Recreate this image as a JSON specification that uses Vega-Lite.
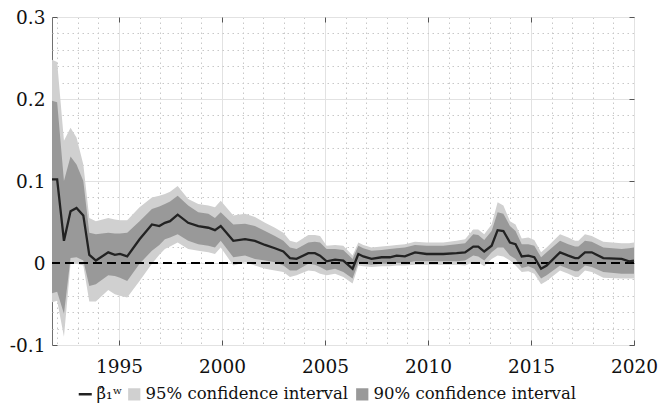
{
  "$schema": "https://vega.github.io/schema/vega-lite/v6.json",
  "width": 582,
  "height": 328,
  "autosize": {"type": "none"},
  "padding": {"left": 52, "top": 17, "right": 26, "bottom": 65},
  "background": "white",
  "config": {
    "font": "DejaVu Serif",
    "view": {"stroke": "#707070", "strokeWidth": 1},
    "axis": {"domain": false, "labelFont": "DejaVu Serif", "labelFontSize": 18.5, "labelColor": "#111", "tickColor": "#555", "tickWidth": 1, "labelFlush": false},
    "legend": {"labelFont": "DejaVu Serif", "labelFontSize": 16.5, "labelColor": "#111", "labelLimit": 0, "padding": 0}
  },
  "data": {"values": [
    {"t": 1991.75, "est": 0.102, "hi95": 0.248, "hi90": 0.198, "lo90": -0.037, "lo95": -0.048},
    {"t": 1992.0, "est": 0.102, "hi95": 0.245, "hi90": 0.196, "lo90": -0.035, "lo95": -0.046},
    {"t": 1992.33, "est": 0.027, "hi95": 0.149, "hi90": 0.100, "lo90": -0.062, "lo95": -0.090},
    {"t": 1992.65, "est": 0.063, "hi95": 0.165, "hi90": 0.130, "lo90": 0.006, "lo95": -0.001},
    {"t": 1992.94, "est": 0.067, "hi95": 0.153, "hi90": 0.120, "lo90": 0.007, "lo95": -0.001},
    {"t": 1993.27, "est": 0.058, "hi95": 0.120, "hi90": 0.100, "lo90": 0.003, "lo95": -0.003},
    {"t": 1993.56, "est": 0.010, "hi95": 0.055, "hi90": 0.037, "lo90": -0.028, "lo95": -0.047},
    {"t": 1993.88, "est": 0.003, "hi95": 0.051, "hi90": 0.035, "lo90": -0.026, "lo95": -0.047},
    {"t": 1994.48, "est": 0.013, "hi95": 0.055, "hi90": 0.037, "lo90": -0.015, "lo95": -0.033},
    {"t": 1994.8, "est": 0.010, "hi95": 0.053, "hi90": 0.036, "lo90": -0.016, "lo95": -0.038},
    {"t": 1995.05, "est": 0.011, "hi95": 0.052, "hi90": 0.036, "lo90": -0.018, "lo95": -0.040},
    {"t": 1995.4, "est": 0.008, "hi95": 0.052, "hi90": 0.037, "lo90": -0.022, "lo95": -0.042},
    {"t": 1996.0, "est": 0.029, "hi95": 0.068, "hi90": 0.051, "lo90": -0.001, "lo95": -0.022},
    {"t": 1996.6, "est": 0.047, "hi95": 0.080, "hi90": 0.066, "lo90": 0.015, "lo95": -0.001},
    {"t": 1996.96, "est": 0.045, "hi95": 0.082, "hi90": 0.069, "lo90": 0.022, "lo95": 0.010},
    {"t": 1997.23, "est": 0.049, "hi95": 0.084, "hi90": 0.072, "lo90": 0.029, "lo95": 0.017},
    {"t": 1997.48, "est": 0.051, "hi95": 0.087, "hi90": 0.075, "lo90": 0.031, "lo95": 0.020},
    {"t": 1997.85, "est": 0.059, "hi95": 0.094, "hi90": 0.082, "lo90": 0.035, "lo95": 0.025},
    {"t": 1998.36, "est": 0.049, "hi95": 0.078, "hi90": 0.070, "lo90": 0.027, "lo95": 0.017},
    {"t": 1998.85, "est": 0.045, "hi95": 0.072, "hi90": 0.062, "lo90": 0.023, "lo95": 0.015},
    {"t": 1999.34, "est": 0.043, "hi95": 0.070, "hi90": 0.060, "lo90": 0.021, "lo95": 0.013},
    {"t": 1999.66, "est": 0.040, "hi95": 0.068, "hi90": 0.055, "lo90": 0.019, "lo95": 0.011},
    {"t": 1999.94, "est": 0.045, "hi95": 0.076, "hi90": 0.062, "lo90": 0.027, "lo95": 0.019},
    {"t": 2000.55, "est": 0.027, "hi95": 0.058, "hi90": 0.047, "lo90": 0.007, "lo95": -0.003},
    {"t": 2001.12, "est": 0.029, "hi95": 0.060, "hi90": 0.048, "lo90": 0.009, "lo95": 0.001},
    {"t": 2001.6, "est": 0.027, "hi95": 0.056, "hi90": 0.045, "lo90": 0.005, "lo95": -0.003},
    {"t": 2002.09, "est": 0.022, "hi95": 0.049, "hi90": 0.039, "lo90": 0.003, "lo95": -0.007},
    {"t": 2002.57, "est": 0.018, "hi95": 0.043, "hi90": 0.033, "lo90": 0.001, "lo95": -0.009},
    {"t": 2002.98, "est": 0.014, "hi95": 0.037, "hi90": 0.027, "lo90": -0.003, "lo95": -0.011},
    {"t": 2003.3, "est": 0.006, "hi95": 0.027, "hi90": 0.019, "lo90": -0.009, "lo95": -0.017},
    {"t": 2003.62, "est": 0.005, "hi95": 0.025, "hi90": 0.017, "lo90": -0.009, "lo95": -0.015},
    {"t": 2004.19, "est": 0.012, "hi95": 0.034, "hi90": 0.025, "lo90": -0.001, "lo95": -0.009},
    {"t": 2004.51, "est": 0.012, "hi95": 0.034, "hi90": 0.026, "lo90": -0.002, "lo95": -0.010},
    {"t": 2004.76, "est": 0.009, "hi95": 0.033, "hi90": 0.025, "lo90": -0.005, "lo95": -0.013},
    {"t": 2005.08, "est": 0.002, "hi95": 0.021, "hi90": 0.017, "lo90": -0.009, "lo95": -0.015},
    {"t": 2005.49, "est": 0.004, "hi95": 0.022, "hi90": 0.017, "lo90": -0.007, "lo95": -0.013},
    {"t": 2005.89, "est": 0.003, "hi95": 0.021, "hi90": 0.016, "lo90": -0.011, "lo95": -0.017},
    {"t": 2006.34, "est": -0.007, "hi95": 0.009, "hi90": 0.005, "lo90": -0.019, "lo95": -0.025},
    {"t": 2006.62, "est": 0.011, "hi95": 0.025, "hi90": 0.021, "lo90": 0.001, "lo95": -0.003},
    {"t": 2006.86, "est": 0.008, "hi95": 0.022, "hi90": 0.018, "lo90": -0.001, "lo95": -0.004},
    {"t": 2007.26, "est": 0.005, "hi95": 0.019, "hi90": 0.015, "lo90": -0.002, "lo95": -0.005},
    {"t": 2007.75, "est": 0.007, "hi95": 0.020, "hi90": 0.016, "lo90": -0.001, "lo95": -0.004},
    {"t": 2008.15, "est": 0.007, "hi95": 0.021, "hi90": 0.017, "lo90": -0.001, "lo95": -0.004},
    {"t": 2008.48, "est": 0.009, "hi95": 0.022, "hi90": 0.018, "lo90": 0.000, "lo95": -0.003},
    {"t": 2008.88, "est": 0.008, "hi95": 0.023, "hi90": 0.019, "lo90": 0.000, "lo95": -0.003},
    {"t": 2009.37, "est": 0.013, "hi95": 0.026, "hi90": 0.022, "lo90": 0.002, "lo95": -0.002},
    {"t": 2009.93, "est": 0.011, "hi95": 0.025, "hi90": 0.021, "lo90": 0.002, "lo95": -0.002},
    {"t": 2010.74, "est": 0.011, "hi95": 0.025, "hi90": 0.021, "lo90": 0.002, "lo95": -0.002},
    {"t": 2011.39, "est": 0.012, "hi95": 0.027, "hi90": 0.023, "lo90": 0.002, "lo95": -0.002},
    {"t": 2011.8, "est": 0.013, "hi95": 0.029, "hi90": 0.024, "lo90": 0.003, "lo95": -0.003},
    {"t": 2012.2, "est": 0.020, "hi95": 0.041, "hi90": 0.035, "lo90": 0.009, "lo95": 0.001},
    {"t": 2012.44, "est": 0.020, "hi95": 0.041, "hi90": 0.034, "lo90": 0.008, "lo95": 0.001},
    {"t": 2012.73, "est": 0.014, "hi95": 0.035, "hi90": 0.028, "lo90": 0.003, "lo95": -0.004},
    {"t": 2013.09, "est": 0.021, "hi95": 0.047, "hi90": 0.039, "lo90": 0.013, "lo95": 0.005},
    {"t": 2013.38, "est": 0.040, "hi95": 0.074, "hi90": 0.062, "lo90": 0.019, "lo95": 0.009},
    {"t": 2013.66, "est": 0.039, "hi95": 0.070, "hi90": 0.060, "lo90": 0.019, "lo95": 0.008},
    {"t": 2013.98, "est": 0.025, "hi95": 0.051, "hi90": 0.045, "lo90": 0.009, "lo95": 0.003},
    {"t": 2014.25, "est": 0.023, "hi95": 0.047, "hi90": 0.039, "lo90": 0.005, "lo95": -0.003},
    {"t": 2014.55, "est": 0.008, "hi95": 0.030, "hi90": 0.023, "lo90": -0.006, "lo95": -0.011},
    {"t": 2014.87, "est": 0.009, "hi95": 0.031, "hi90": 0.023, "lo90": -0.004, "lo95": -0.010},
    {"t": 2015.16, "est": 0.007, "hi95": 0.028, "hi90": 0.021, "lo90": -0.007, "lo95": -0.013},
    {"t": 2015.49, "est": -0.007, "hi95": 0.013, "hi90": 0.007, "lo90": -0.019, "lo95": -0.026},
    {"t": 2015.76, "est": -0.003, "hi95": 0.019, "hi90": 0.013, "lo90": -0.015, "lo95": -0.022},
    {"t": 2016.41, "est": 0.013, "hi95": 0.035, "hi90": 0.027, "lo90": -0.003, "lo95": -0.009},
    {"t": 2016.81, "est": 0.009, "hi95": 0.031, "hi90": 0.023, "lo90": -0.007, "lo95": -0.013},
    {"t": 2017.14, "est": 0.006, "hi95": 0.027, "hi90": 0.020, "lo90": -0.010, "lo95": -0.017},
    {"t": 2017.3, "est": 0.006, "hi95": 0.027, "hi90": 0.020, "lo90": -0.010, "lo95": -0.017},
    {"t": 2017.62, "est": 0.013, "hi95": 0.035, "hi90": 0.027, "lo90": -0.003, "lo95": -0.009},
    {"t": 2017.95, "est": 0.013, "hi95": 0.033, "hi90": 0.026, "lo90": -0.005, "lo95": -0.011},
    {"t": 2018.51, "est": 0.006, "hi95": 0.026, "hi90": 0.019, "lo90": -0.011, "lo95": -0.018},
    {"t": 2019.4, "est": 0.005, "hi95": 0.024, "hi90": 0.017, "lo90": -0.013, "lo95": -0.019},
    {"t": 2019.76, "est": 0.002, "hi95": 0.024, "hi90": 0.018, "lo90": -0.013, "lo95": -0.019},
    {"t": 2020.0, "est": 0.003, "hi95": 0.025, "hi90": 0.019, "lo90": -0.013, "lo95": -0.019}
  ]},
  "resolve": {"axis": {"x": "independent", "y": "independent"}},
  "layer": [
    {
      "mark": {"type": "area", "opacity": 1},
      "encoding": {
        "x": {"field": "t", "type": "quantitative",
              "scale": {"domain": [1991.75, 2020], "nice": false, "zero": false},
              "axis": {"orient": "bottom", "values": [1992,1993,1994,1996,1997,1998,1999,2001,2002,2003,2004,2006,2007,2008,2009,2011,2012,2013,2014,2016,2017,2018,2019],
                       "labels": false, "ticks": false, "grid": true, "gridColor": "#c8c8c8", "gridDash": [1.5, 3.5], "gridWidth": 1, "title": null}},
        "y": {"field": "lo95", "type": "quantitative",
              "scale": {"domain": [-0.1, 0.3], "nice": false, "zero": false},
              "axis": {"orient": "left", "values": [-0.08,-0.06,-0.04,-0.02,0.02,0.04,0.06,0.08,0.12,0.14,0.16,0.18,0.22,0.24,0.26,0.28],
                       "labels": false, "ticks": false, "grid": true, "gridColor": "#c8c8c8", "gridDash": [1.5, 3.5], "gridWidth": 1, "title": null}},
        "y2": {"field": "hi95"},
        "fill": {"datum": "95% confidence interval", "type": "nominal",
                 "scale": {"domain": ["95% confidence interval", "90% confidence interval"], "range": ["#d0d0d0", "#999999"]},
                 "legend": {"orient": "none", "legendX": 74, "legendY": 369, "direction": "horizontal", "title": null,
                            "labelOffset": 3, "columnPadding": 5, "symbolSize": 150, "symbolType": "square", "symbolStrokeWidth": 0}}
      }
    },
    {
      "mark": {"type": "area", "opacity": 1},
      "encoding": {
        "x": {"field": "t", "type": "quantitative",
              "axis": {"orient": "bottom", "values": [1995, 2000, 2005, 2010, 2015, 2020], "format": "d",
                       "grid": true, "gridColor": "#e2e2e2", "gridWidth": 1, "ticks": true, "tickSize": -5, "labelPadding": 17, "title": null}},
        "y": {"field": "lo90", "type": "quantitative",
              "axis": {"orient": "left", "values": [-0.1, 0, 0.1, 0.2, 0.3],
                       "labelExpr": "datum.value == 0 ? '0' : (datum.value < 0 ? '-' + format(-datum.value, '.1f') : format(datum.value, '.1f'))",
                       "grid": true, "gridColor": "#e2e2e2", "gridWidth": 1, "ticks": true, "tickSize": -5, "labelPadding": 12, "title": null}},
        "y2": {"field": "hi90"},
        "fill": {"datum": "90% confidence interval", "type": "nominal"}
      }
    },
    {
      "mark": {"type": "rule", "color": "black", "strokeWidth": 2.2, "strokeDash": [9, 5]},
      "encoding": {"y": {"datum": 0, "type": "quantitative", "axis": null}}
    },
    {
      "mark": {"type": "line", "strokeWidth": 2.3},
      "encoding": {
        "x": {"field": "t", "type": "quantitative",
              "axis": {"orient": "top", "values": [1995, 2000, 2005, 2010, 2015], "labels": false, "grid": false, "ticks": true, "tickSize": -5, "title": null}},
        "y": {"field": "est", "type": "quantitative",
              "axis": {"orient": "right", "values": [-0.1, 0, 0.1, 0.2, 0.3], "labels": false, "grid": false, "ticks": true, "tickSize": -5, "title": null}},
        "stroke": {"datum": "\u03b2\u0302\u2081\u02b7", "type": "nominal",
                   "scale": {"domain": ["\u03b2\u0302\u2081\u02b7"], "range": ["#222222"]},
                   "legend": {"orient": "none", "legendX": 25, "legendY": 369, "direction": "horizontal", "title": null,
                              "labelOffset": 3, "symbolSize": 170, "symbolType": "stroke", "symbolStrokeWidth": 2.5}}
      }
    }
  ]
}
